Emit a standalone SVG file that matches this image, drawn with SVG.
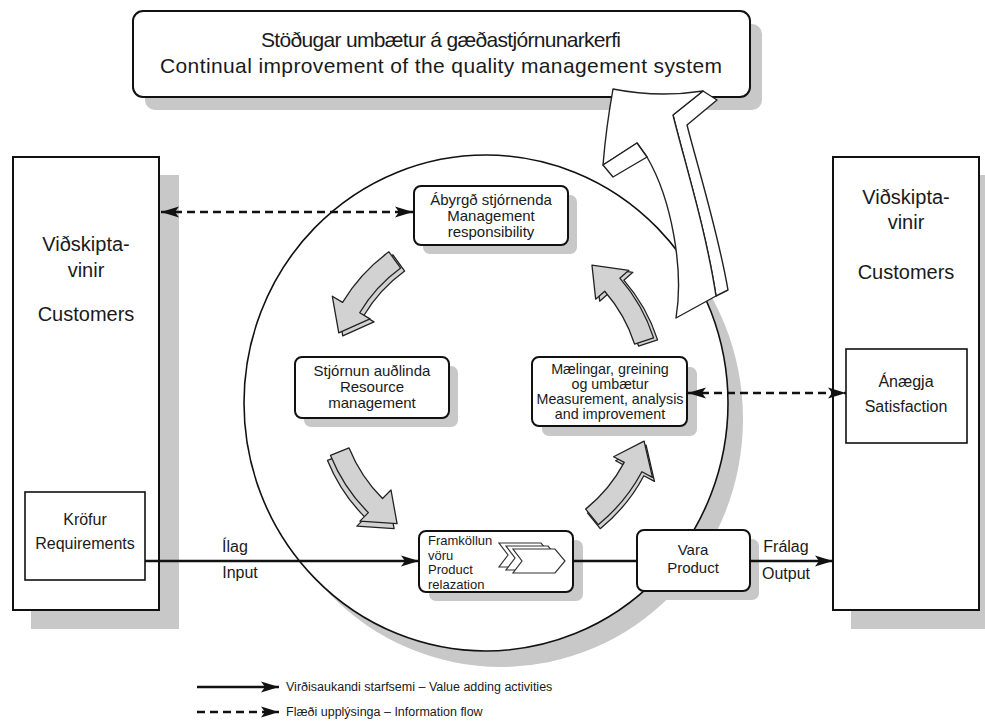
<svg xmlns="http://www.w3.org/2000/svg" width="985" height="722" viewBox="0 0 985 722">
<defs>
<style>
text { font-family: "Liberation Sans", Arial, sans-serif; fill: #1a1a1a; }
.sh { fill: #c8c8c8; }
.box { fill: #fff; stroke: #111; stroke-width: 2; }
.sbox { fill: #fff; stroke: #111; stroke-width: 1.6; }
.ln { stroke: #111; stroke-width: 2.5; fill: none; }
.ds { stroke: #111; stroke-width: 2.5; fill: none; stroke-dasharray: 8 5; }
.ga { fill: #d2d2d2; stroke: #222; stroke-width: 1.3; stroke-linejoin: round; }
.wa { fill: #fff; stroke: #222; stroke-width: 1.4; stroke-linejoin: round; }
.chev { fill: #fff; stroke: #333; stroke-width: 1.2; }
.c15 { font-size: 15px; text-anchor: middle; }
.c14 { font-size: 14.3px; text-anchor: middle; }
.l13 { font-size: 13px; }
.c16 { font-size: 16px; text-anchor: middle; }
.c20 { font-size: 20px; text-anchor: middle; }
.c21 { font-size: 21px; text-anchor: middle; }
.lg { font-size: 12.5px; }
</style>
<marker id="ah" markerUnits="userSpaceOnUse" markerWidth="20" markerHeight="12" refX="18" refY="6" orient="auto-start-reverse" viewBox="0 0 20 12">
<path d="M0,0.5 L18,6 L0,11.5 L4,6 Z" fill="#111"/>
</marker>
<path id="garc" d="M172,0 L152,0 A152,152 0 0 0 139.92,-59.39 L128.87,-54.70 L135.87,-88.23 L169.37,-71.89 L158.33,-67.20 A172,172 0 0 1 172,0 Z"/>
<path id="chv" d="M0,0 L42,0 L52,12 L42,24 L0,24 L9,12 Z"/>
</defs>

<g id="shadows">
<rect class="sh" x="145" y="24" width="617" height="86" rx="10"/>
<rect class="sh" x="31" y="175" width="148" height="454"/>
<rect class="sh" x="851" y="175" width="148" height="454"/>
<ellipse class="sh" cx="501" cy="419" rx="242" ry="248"/>
</g>

<g id="top-box">
<rect class="box" x="133" y="11" width="617" height="86" rx="10"/>
<text class="c21" x="441" y="47" textLength="360" lengthAdjust="spacing">Stöðugar umbætur á gæðastjórnunarkerfi</text>
<text class="c21" x="441" y="73" textLength="562" lengthAdjust="spacing">Continual improvement of the quality management system</text>
</g>

<g id="customers-left">
<rect class="box" x="13" y="157" width="146" height="453"/>
<text class="c20" x="86" y="251">Viðskipta-</text>
<text class="c20" x="86" y="277">vinir</text>
<text class="c20" x="86" y="321">Customers</text>
</g>

<g id="requirements">
<rect class="sbox" x="25" y="492" width="120" height="88"/>
<text class="c16" x="85" y="525">Kröfur</text>
<text class="c16" x="85" y="549">Requirements</text>
</g>

<g id="customers-right">
<rect class="box" x="833" y="157" width="146" height="453"/>
<text class="c20" x="906" y="204">Viðskipta-</text>
<text class="c20" x="906" y="229">vinir</text>
<text class="c20" x="906" y="279">Customers</text>
</g>

<g id="satisfaction">
<rect class="sbox" x="846" y="349" width="121" height="94"/>
<text class="c16" x="906" y="387">Ánægja</text>
<text class="c16" x="906" y="412">Satisfaction</text>
</g>

<g id="process-circle">
<ellipse cx="486" cy="403" rx="242" ry="248" fill="#fff" stroke="#111" stroke-width="1.6"/>
</g>

<g id="management">
<rect class="sh" x="423" y="195" width="154" height="59" rx="7"/>
<rect class="box" x="414" y="186" width="154" height="59" rx="7"/>
<text class="c15" x="491" y="204.5">Ábyrgð stjórnenda</text>
<text class="c15" x="491" y="220.5">Management</text>
<text class="c15" x="491" y="236.5">responsibility</text>
</g>

<g id="resource">
<rect class="sh" x="304" y="366" width="154" height="61" rx="7"/>
<rect class="box" x="295" y="357" width="154" height="61" rx="7"/>
<text class="c15" x="372" y="376">Stjórnun auðlinda</text>
<text class="c15" x="372" y="392">Resource</text>
<text class="c15" x="372" y="408">management</text>
</g>

<g id="measurement">
<rect class="sh" x="542" y="367" width="155" height="69" rx="7"/>
<rect class="box" x="532" y="357" width="155" height="69" rx="7"/>
<text class="c14" x="610" y="373.5">Mælingar, greining</text>
<text class="c14" x="610" y="388.8">og umbætur</text>
<text class="c14" x="610" y="404.1">Measurement, analysis</text>
<text class="c14" x="610" y="419.4">and improvement</text>
</g>

<g id="realization">
<rect class="sh" x="429" y="540" width="154" height="61" rx="7"/>
<rect class="box" x="419" y="531" width="154" height="61" rx="7"/>
<text class="l13" x="428" y="545">Framköllun</text>
<text class="l13" x="428" y="559.5">vöru</text>
<text class="l13" x="428" y="574">Product</text>
<text class="l13" x="428" y="588.5">relazation</text>
<use href="#chv" class="chev" transform="translate(499,543)"/>
<use href="#chv" class="chev" transform="translate(506,546)"/>
<use href="#chv" class="chev" transform="translate(513,549)"/>
</g>

<g id="product">
<rect class="sh" x="646" y="539" width="113" height="61" rx="7"/>
<rect class="box" x="637" y="530" width="113" height="61" rx="7"/>
<text class="c15" x="693" y="555">Vara</text>
<text class="c15" x="693" y="573">Product</text>
</g>

<g id="cycle-arrows">
<use href="#garc" class="ga" transform="translate(494,394) rotate(-126)"/>
<use href="#garc" class="ga" transform="translate(490,391) rotate(-126)"/>
<use href="#garc" class="ga" transform="translate(487,396) rotate(158)"/>
<use href="#garc" class="ga" transform="translate(490,391) rotate(158)"/>
<use href="#garc" class="ga" transform="translate(492,395) rotate(51)"/>
<use href="#garc" class="ga" transform="translate(490,391) rotate(51)"/>
<use href="#garc" class="ga" transform="translate(494,393) rotate(-18)"/>
<use href="#garc" class="ga" transform="translate(490,391) rotate(-18)"/>
</g>

<g id="connectors">
<line class="ln" x1="145" y1="561" x2="419" y2="561" marker-end="url(#ah)"/>
<line class="ln" x1="573" y1="561" x2="637" y2="561"/>
<line class="ln" x1="750" y1="561" x2="833" y2="561" marker-end="url(#ah)"/>
<line class="ds" x1="161" y1="212" x2="413" y2="212" marker-start="url(#ah)" marker-end="url(#ah)"/>
<line class="ds" x1="688" y1="393" x2="846" y2="393" marker-start="url(#ah)" marker-end="url(#ah)"/>
<text class="c16" x="235" y="552">Ílag</text>
<text class="c16" x="240" y="578">Input</text>
<text class="c16" x="786" y="552">Frálag</text>
<text class="c16" x="786" y="579">Output</text>
</g>

<g id="improvement-arrow">
<path class="wa" d="M703,91 L717,100 L687,125 C698,168 718,232 728,290 L716,296 C706,230 684,160 673,115 Z"/>
<path class="wa" d="M613,89 Q658,98 703,91 L673,115 C684,160 706,230 716,296 L676,318 C684,270 672,200 647,157 L637,143 L603,165 Q606,128 613,89 Z"/>
<path class="wa" d="M603,165 L613,177 L647,157 L637,143 Z"/>
</g>

<g id="legend">
<line class="ln" x1="197" y1="687" x2="279" y2="687" marker-end="url(#ah)"/>
<line class="ds" x1="197" y1="712" x2="279" y2="712" marker-end="url(#ah)"/>
<text class="lg" x="286" y="691">Virðisaukandi starfsemi – Value adding activities</text>
<text class="lg" x="286" y="716">Flæði upplýsinga – Information flow</text>
</g>
</svg>
